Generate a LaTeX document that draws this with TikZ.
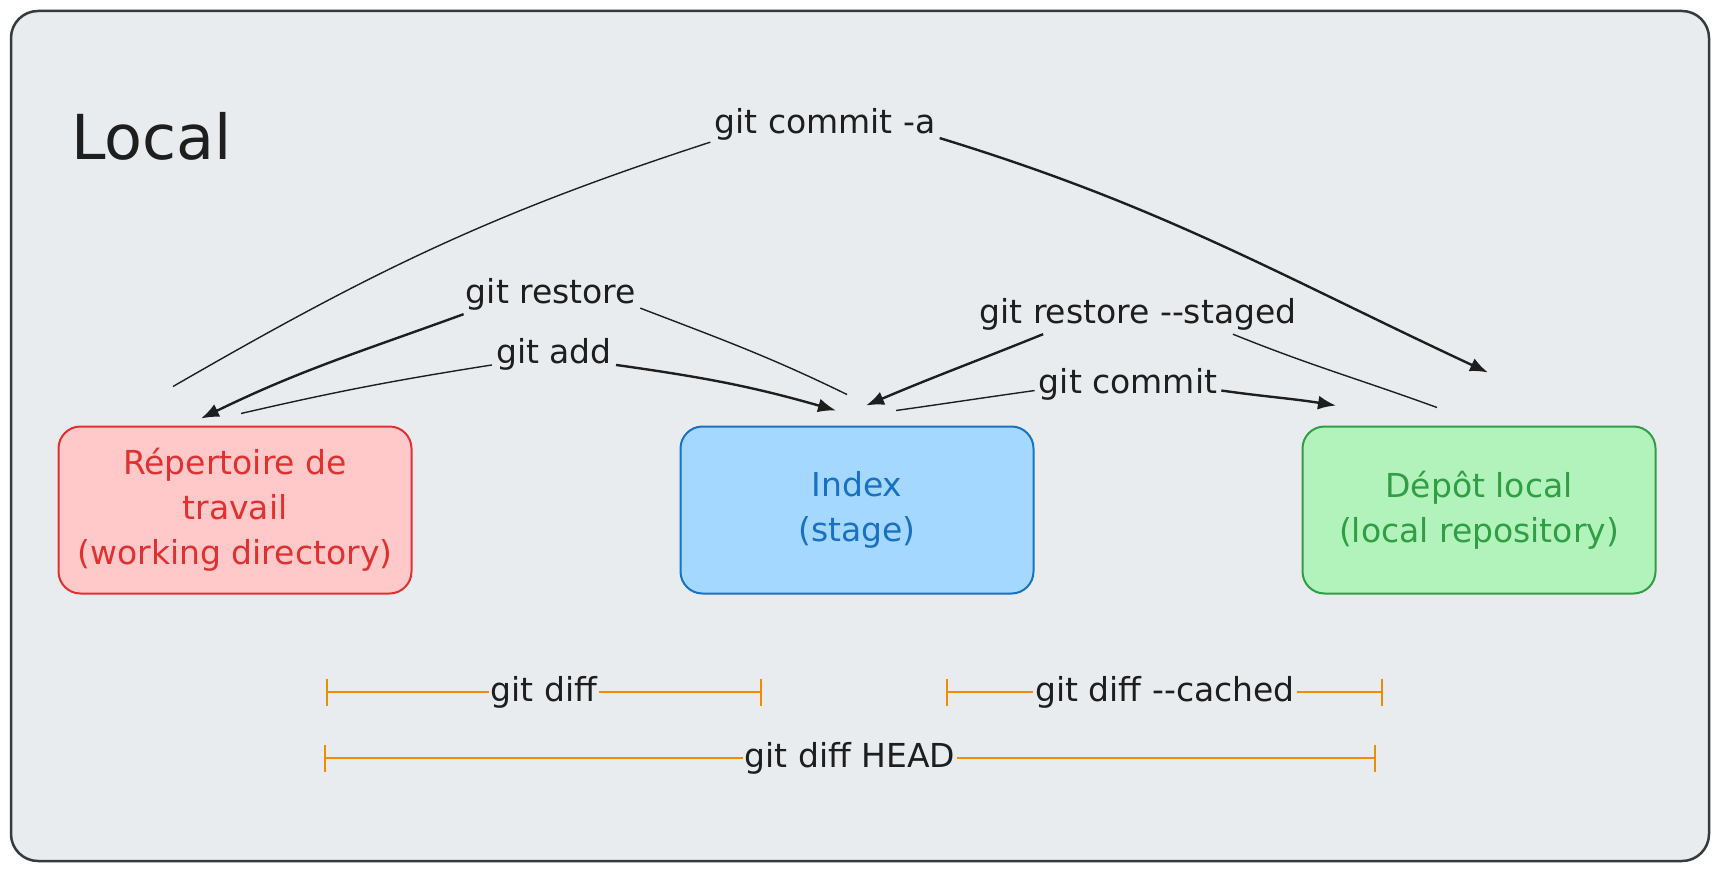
\documentclass[tikz,border=0pt]{standalone}
\usepackage{fontspec}
\setmainfont{DejaVu Sans}
\usetikzlibrary{arrows.meta,positioning}

\definecolor{ink}{HTML}{1E1E1E}
\definecolor{framefill}{HTML}{E9ECEF}
\definecolor{frameline}{HTML}{343A40}
\definecolor{wdline}{HTML}{E03131}
\definecolor{wdfill}{HTML}{FFC9C9}
\definecolor{idxline}{HTML}{1971C2}
\definecolor{idxfill}{HTML}{A5D8FF}
\definecolor{repoline}{HTML}{2F9E44}
\definecolor{repofill}{HTML}{B2F2BB}
\definecolor{diffline}{HTML}{F08C00}

\begin{document}
\begin{tikzpicture}[
  x=1pt, y=1pt,
  >={Latex[length=18pt,width=14pt]},
  every node/.style={font=\fontsize{33}{45}\selectfont, text=ink},
  box node/.style={rounded corners=22pt, line width=2pt, minimum width=353pt,
    minimum height=167pt, align=center},
  label node/.style={inner sep=4pt},
  tail line/.style={draw=ink, line width=1.4pt},
  head line/.style={draw=ink, line width=2.4pt, ->},
  diff bar/.style={draw=diffline, line width=2pt}
]
\useasboundingbox (0,0) rectangle (1720,-872);
\draw[draw=frameline, fill=framefill, line width=2.5pt, rounded corners=27pt]
  (11,-11) rectangle (1709,-861);
\node[anchor=base west, inner sep=0pt, font=\fontsize{62}{62}\selectfont] (title)
  at (71,-159) {Local};

% the three areas
\node[box node, draw=wdline, fill=wdfill, text=wdline] (wd) at (235,-510)
  {Répertoire de\\travail\\(working directory)};
\node[box node, draw=idxline, fill=idxfill, text=idxline, right=267pt of wd] (idx)
  {Index\\(stage)};
\node[box node, draw=repoline, fill=repofill, text=repoline, right=267pt of idx] (repo)
  {Dépôt local\\(local repository)};

% commands
\node[label node] (commita) at (825,-124) {git commit -a};
\node[label node] (restore) at (551,-294) {git restore};
\node[label node] (add) at (554,-354) {git add};
\node[label node] (restorest) at (1138,-314) {git restore {-}{-}staged};
\node[label node] (commit) at (1128,-384) {git commit};

\draw[tail line] ([xshift=-62pt,yshift=39pt]wd.north) to[out=30,in=198] (commita.189);
\draw[head line] (commita.-7) to[out=-17,in=155] ([xshift=9pt,yshift=53pt]repo.north);

\draw[tail line] ([xshift=-10pt,yshift=31pt]idx.north) to[out=154,in=-21] (restore.-9);
\draw[head line] (restore.193) to[out=200,in=26] ([xshift=-34pt,yshift=7pt]wd.north);

\draw[tail line] ([xshift=6pt,yshift=12pt]wd.north) to[out=13,in=189] (add.190);
\draw[head line] (add.-10) to[out=-8,in=164] ([xshift=-21pt,yshift=15pt]idx.north);

\draw[tail line] ([xshift=-42pt,yshift=18pt]repo.north) to[out=160,in=-22] (restorest.348);
\draw[head line] (restorest.192) to[out=202,in=23] ([xshift=9pt,yshift=20pt]idx.north);

\draw[tail line] ([xshift=39pt,yshift=15pt]idx.north) to[out=8,in=188] (commit.184);
\draw[head line] (commit.-4) to[out=-8,in=171] ([xshift=-143pt,yshift=20pt]repo.north);

% diffs
\coordinate (diffl) at (326,-692);
\coordinate (diffr) at (762,-692);
\coordinate (cachedl) at (946,-692);
\coordinate (cachedr) at (1383,-692);
\coordinate (headl) at (324,-758);
\coordinate (headr) at (1376,-758);
\node[label node, inner sep=2pt] (diff) at (544,-692) {git diff};
\node[label node, inner sep=2pt] (cached) at (1165,-692) {git diff {-}{-}cached};
\node[label node, inner sep=2pt] (head) at (850,-758) {git diff HEAD};

\draw[diff bar, {Bar[width=27pt]}-] (diffl) -- (diff);
\draw[diff bar, -{Bar[width=27pt]}] (diff) -- (diffr);
\draw[diff bar, {Bar[width=27pt]}-] (cachedl) -- (cached);
\draw[diff bar, -{Bar[width=27pt]}] (cached) -- (cachedr);
\draw[diff bar, {Bar[width=27pt]}-] (headl) -- (head);
\draw[diff bar, -{Bar[width=27pt]}] (head) -- (headr);
\end{tikzpicture}
\end{document}
